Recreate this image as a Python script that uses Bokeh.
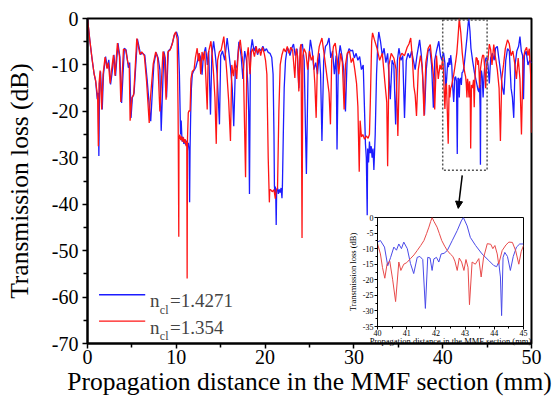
from bokeh.plotting import figure
from bokeh.models import (Range1d, FixedTicker, BoxAnnotation, Arrow, NormalHead,
                          Label, GridBox)
from bokeh.embed import file_html
from bokeh.resources import INLINE

SERIF = "Liberation Serif"

# ---------------- data ----------------
x_ticks = [0, 10, 20, 30, 40, 50]
x_minor = [5, 15, 25, 35, 45]
y_ticks = [0, -10, -20, -30, -40, -50, -60, -70]
y_minor = [-5, -15, -25, -35, -45, -55, -65]
inset_x_ticks = [40, 41, 42, 43, 44, 45]
inset_x_minor = [40.5, 41.5, 42.5, 43.5, 44.5]
inset_y_ticks = [0, -5, -10, -15, -20, -25, -30, -35]
inset_y_minor = [-2.5, -7.5, -12.5, -17.5, -22.5, -27.5, -32.5]
series_labels = ["1.4271", "1.354"]

# n_cl = 1.354 (red)
red_0_10 = [(0, 0), (0.25, -4.5), (0.5, -8.5), (0.75, -12), (0.9, -13.2), (1.05, -15.5),
            (1.15, -17.5), (1.22, -27.5), (1.3, -14), (1.42, -11.2), (1.6, -19.6), (1.75, -12),
            (1.98, -8.3), (2.2, -10.8), (2.35, -9.5), (2.55, -14), (2.65, -12), (2.92, -7.9),
            (3.1, -12.3), (3.37, -5.3), (3.6, -8.2), (3.75, -18), (4.05, -6.6), (4.3, -6.8),
            (4.55, -9.5), (4.7, -10.2), (4.8, -22), (5.0, -17), (5.2, -16.5), (5.55, -4.3),
            (5.9, -7.7), (6.1, -7.2), (6.4, -8), (6.65, -13.5), (6.95, -22.5), (7.05, -18),
            (7.4, -9.8), (7.68, -7.2), (7.9, -8.5), (8.15, -20), (8.5, -7.1), (8.65, -8),
            (8.85, -17.5), (9.05, -7.2), (9.3, -6.8), (9.55, -5.5), (9.75, -3.6), (9.92, -2.9),
            (10.1, -4.5), (10.2, -20)]
red_10_12 = [(10.22, -25.5), (10.28, -47), (10.3, -26), (10.4, -25), (10.5, -26.2),
             (10.6, -25.4), (10.7, -26.5), (10.8, -25.6), (10.9, -26.8), (11.0, -26),
             (11.1, -27.5), (11.18, -26.5), (11.22, -56), (11.26, -26), (11.35, -20.3),
             (11.45, -19.8)]
red_12_22 = [(11.55, -20), (11.65, -13), (11.8, -11.4), (12.0, -11), (12.15, -8.5),
             (12.35, -6.4), (12.5, -9.2), (12.6, -7.5), (12.75, -12), (12.9, -7.2),
             (13.05, -9), (13.2, -7), (13.48, -19.6), (13.6, -7.5), (13.9, -4.9), (14.05, -8),
             (14.2, -12), (14.35, -17), (14.5, -27), (14.65, -9), (14.85, -7.2), (15.05, -6.8),
             (15.35, -3.9), (15.55, -8.2), (15.7, -12), (15.9, -17.8), (16.1, -26.4),
             (16.25, -10), (16.45, -12.4), (16.6, -9), (16.8, -13), (17.0, -6.8), (17.2, -4.6),
             (17.4, -8), (17.55, -10), (17.8, -34.2), (17.95, -8.5), (18.1, -6.2), (18.3, -12),
             (18.45, -7.2), (18.6, -6.5), (18.8, -8.2), (19.0, -6), (19.15, -7.5), (19.35, -6.5),
             (19.5, -8), (19.7, -6.2), (19.9, -7.5), (20.05, -9), (20.2, -12), (20.35, -30),
             (20.48, -39.6), (20.52, -37), (20.6, -36.8), (20.8, -37.3), (21.0, -36.9),
             (21.15, -38.8), (21.25, -37), (21.4, -36.5), (21.55, -20), (21.7, -10),
             (21.9, -7.8)]
red_22_32 = [(22.1, -6.5), (22.3, -7.2), (22.5, -6), (22.7, -7.5), (22.9, -6.2), (23.1, -6.8),
             (23.35, -12.8), (23.5, -6.5), (23.65, -8), (23.8, -15.7), (23.95, -6.4),
             (24.05, -5.5), (24.16, -47.3), (24.25, -8), (24.4, -6.5), (24.6, -7.5), (24.8, -11),
             (25.0, -7), (25.2, -9), (25.4, -8), (25.6, -14), (25.75, -21.4), (25.9, -9),
             (26.1, -6), (26.4, -4.2), (26.6, -7), (26.8, -10), (27.0, -13), (27.2, -16),
             (27.36, -22.8), (27.5, -9), (27.7, -6), (27.9, -5.3), (28.1, -8.5), (28.3, -12),
             (28.5, -7.5), (28.7, -9.5), (28.9, -19.6), (29.05, -10), (29.25, -7.5), (29.5, -7),
             (29.7, -9.5), (29.9, -8.5), (30.1, -11), (30.3, -14), (30.45, -19), (30.6, -33),
             (30.7, -22), (30.85, -25.5), (31.0, -25), (31.2, -26), (31.4, -25.3), (31.6, -25.8),
             (31.75, -25), (31.85, -18), (32.0, -5), (32.1, -3.1)]
red_32_40 = [(32.3, -4.5), (32.6, -6.4), (32.9, -9), (33.2, -7.5), (33.5, -14), (33.7, -18),
             (33.8, -31.8), (33.95, -10), (34.2, -7.5), (34.5, -8.5), (34.75, -11),
             (34.95, -25.3), (35.15, -8.5), (35.4, -7.5), (35.7, -8), (36.0, -6.2), (36.2, -5.5),
             (36.4, -4.2), (36.6, -9), (36.75, -14.6), (36.9, -16.5), (37.05, -21), (37.25, -11),
             (37.5, -8), (37.7, -10.5), (37.9, -21), (38.1, -9.5), (38.35, -6.5), (38.6, -5.6),
             (38.8, -9.5), (39.0, -13), (39.1, -19.6), (39.3, -8), (39.5, -13), (39.7, -10),
             (39.85, -11)]
red_40_45 = [(40.0, -8.4), (40.1, -11.7), (40.17, -16), (40.25, -19.5), (40.33, -14.8),
             (40.42, -14), (40.52, -20), (40.62, -27), (40.73, -14.3), (40.8, -17), (40.9, -15),
             (41.0, -14.5), (41.13, -13.2), (41.25, -12), (41.36, -10.6), (41.48, -9),
             (41.59, -7.4), (41.68, -5.2), (41.76, -3.1), (41.82, -1.3), (41.87, 0),
             (41.93, -1.2), (42.04, -3.1), (42.12, -5.2), (42.2, -7.4), (42.3, -9.2),
             (42.39, -10.6), (42.5, -11.8), (42.58, -12.5), (42.65, -14), (42.73, -17),
             (42.8, -13), (42.88, -14.3), (42.96, -17), (43.03, -13.5), (43.1, -16),
             (43.15, -28), (43.24, -14.3), (43.35, -15), (43.47, -13.2), (43.55, -19.1),
             (43.63, -13), (43.76, -8.4), (43.88, -8.6), (43.95, -10), (44.02, -9),
             (44.1, -11.7), (44.15, -15), (44.27, -10.6), (44.4, -8.8), (44.5, -7.9),
             (44.62, -8), (44.73, -10.6), (44.84, -15), (44.92, -11), (45.0, -9)]
red_45_50 = [(45.1, -9), (45.25, -5.5), (45.4, -6.7), (45.55, -10), (45.75, -5.6),
             (45.95, -8.5), (46.15, -11), (46.35, -15), (46.5, -26.4), (46.65, -13),
             (46.85, -10), (47.05, -6.5), (47.3, -4.6), (47.5, -5.5), (47.7, -8), (47.9, -7),
             (48.1, -9.5), (48.3, -13), (48.5, -8.5), (48.7, -13), (48.87, -25), (49.05, -9),
             (49.25, -7), (49.45, -6.2), (49.6, -8), (49.75, -6.5), (49.9, -12), (50.0, -24.6)]

# n_cl = 1.4271 (blue)
blue_0_10 = [(0, 0), (0.25, -4.5), (0.5, -8.5), (0.75, -12), (0.92, -13.5), (1.1, -17.4),
             (1.2, -16), (1.28, -29.6), (1.36, -14), (1.47, -11.4), (1.66, -19.6), (1.8, -12),
             (2.04, -8.2), (2.22, -10.7), (2.4, -8.9), (2.6, -14.2), (2.75, -12), (2.98, -7.8),
             (3.16, -12.4), (3.43, -5.3), (3.65, -8.3), (3.84, -18.2), (4.15, -6.4),
             (4.35, -6.8), (4.6, -10.6), (4.75, -9.5), (4.9, -21.4), (5.05, -17.1), (5.25, -16),
             (5.62, -4.4), (5.98, -7.8), (6.15, -7.4), (6.45, -7.9), (6.73, -13.5), (7.05, -21),
             (7.12, -22.1), (7.47, -9.9), (7.73, -7.3), (7.95, -8.5), (8.15, -11), (8.3, -24.2),
             (8.6, -7.1), (8.75, -8.5), (8.9, -17), (9.1, -7), (9.35, -6.5), (9.6, -5),
             (9.8, -3.5), (10.02, -2.9), (10.2, -4), (10.35, -12), (10.48, -25)]
blue_10_12 = [(10.55, -22), (10.65, -26.5), (10.75, -25.5), (10.85, -27), (10.95, -26),
              (11.05, -27.2), (11.15, -26.3), (11.25, -27.5), (11.35, -26.8), (11.45, -28.5),
              (11.5, -39.6), (11.55, -28), (11.62, -20.7), (11.7, -15), (11.8, -12),
              (11.95, -11.3), (12.05, -11)]
blue_12_21 = [(12.2, -10.5), (12.4, -9), (12.55, -7.5), (12.7, -8.2), (12.9, -12.1), (13.05, -8),
              (13.3, -6.2), (13.5, -10), (13.65, -7), (13.85, -20.7), (14.0, -8), (14.2, -4.9),
              (14.4, -8), (14.6, -12), (14.86, -22.8), (15.0, -8), (15.2, -7), (15.45, -9),
              (15.73, -4.2), (15.9, -7), (16.1, -10.5), (16.3, -15), (16.47, -23.2), (16.65, -11),
              (16.85, -10), (17.05, -5), (17.3, -8), (17.5, -13), (17.7, -7), (17.9, -9),
              (18.05, -14), (18.15, -20), (18.24, -37.8), (18.35, -7.5), (18.55, -4.5),
              (18.75, -7), (18.95, -6), (19.15, -7.8), (19.35, -6.5), (19.55, -7), (19.75, -6),
              (19.95, -7), (20.15, -6.5), (20.35, -7.3), (20.55, -7.5), (20.75, -8.4),
              (20.9, -12), (21.0, -25)]
blue_21_23 = [(21.05, -36), (21.1, -37.5), (21.15, -36.2), (21.2, -38), (21.25, -44.5),
              (21.3, -37), (21.4, -36.5), (21.5, -37.8), (21.6, -36.8), (21.7, -37.5),
              (21.8, -36.5), (21.9, -38.7), (21.95, -36), (22.05, -25), (22.15, -15),
              (22.3, -9), (22.45, -7)]
blue_23_33 = [(22.6, -6.5), (22.8, -8), (23.0, -6.4), (23.2, -5.5), (23.4, -8), (23.6, -6.5),
              (23.8, -15), (24.0, -6), (24.2, -5.5), (24.4, -9), (24.55, -24), (24.65, -33.5),
              (24.85, -10), (25.1, -4.6), (25.3, -7), (25.5, -11), (25.7, -9.5), (25.9, -12),
              (26.1, -7.5), (26.25, -12), (26.4, -26.4), (26.6, -9), (26.8, -6), (27.0, -5.5),
              (27.2, -4.2), (27.4, -8.5), (27.6, -7), (27.8, -12), (28.0, -8), (28.1, -28.2),
              (28.25, -9), (28.45, -5.8), (28.65, -8), (28.85, -11), (29.05, -20), (29.25, -8),
              (29.45, -6.5), (29.65, -7), (29.85, -6.8), (30.05, -8.5), (30.25, -7.5),
              (30.45, -9), (30.65, -8.2), (30.85, -11), (31.05, -10), (31.2, -20), (31.3, -27),
              (31.4, -30), (31.5, -42.4), (31.55, -28), (31.65, -31), (31.75, -26.5),
              (31.85, -29), (31.95, -27.5), (32.05, -30), (32.15, -28), (32.25, -32.6),
              (32.4, -25), (32.55, -12), (32.7, -5), (32.8, -2.9)]
blue_33_40 = [(33.0, -5), (33.2, -8), (33.4, -6.4), (33.6, -9.5), (33.8, -7.5), (34.0, -14),
              (34.1, -17.4), (34.3, -9), (34.5, -10), (34.7, -22.8), (34.9, -9), (35.07, -6.4),
              (35.3, -9), (35.5, -8), (35.7, -21.4), (35.9, -9), (36.1, -7.5), (36.3, -8.5),
              (36.5, -7), (36.7, -9), (36.9, -11), (37.1, -8), (37.4, -4.6), (37.6, -8),
              (37.8, -14), (37.95, -20.7), (38.15, -11), (38.35, -7), (38.55, -6.5), (38.75, -10),
              (38.95, -19.2), (39.1, -9), (39.3, -7), (39.56, -4.9), (39.75, -8), (39.9, -9)]
blue_40_45 = [(40.0, -7.9), (40.1, -7.4), (40.24, -9.5), (40.35, -15.5), (40.45, -12.8),
              (40.56, -9.5), (40.65, -10.5), (40.73, -8.5), (40.82, -10), (40.9, -7.9),
              (41.02, -10), (41.13, -14.8), (41.24, -18), (41.36, -12.8), (41.45, -12.5),
              (41.55, -13.5), (41.64, -29.2), (41.72, -12.8), (41.8, -13), (41.87, -17),
              (41.93, -13.3), (42.02, -12.8), (42.1, -14.3), (42.18, -11.7), (42.28, -11.5),
              (42.39, -10.6), (42.56, -7.4), (42.73, -4.2), (42.87, -1.1), (42.94, 0),
              (43.07, -2.7), (43.18, -6.4), (43.36, -9), (43.58, -11.7), (43.81, -13.8),
              (43.98, -15.4), (44.08, -15.8), (44.15, -14.3), (44.21, -19.1), (44.25, -31.5),
              (44.3, -12.8), (44.36, -11.2), (44.45, -12.5), (44.55, -17), (44.65, -12.5),
              (44.76, -9.5), (44.87, -8.5), (45.0, -8.5)]
blue_45_50 = [(45.1, -10), (45.25, -14), (45.4, -8.5), (45.6, -7.5), (45.8, -9), (45.95, -6.4),
              (46.15, -6), (46.35, -9), (46.55, -12), (46.7, -14.6), (46.9, -16.4), (47.1, -9),
              (47.3, -6.5), (47.5, -7), (47.7, -15), (47.85, -17), (48.0, -21.4), (48.15, -10),
              (48.35, -7), (48.55, -6), (48.7, -3.9), (48.85, -7), (49.0, -8), (49.1, -17.4),
              (49.2, -8), (49.4, -7), (49.6, -10), (49.8, -9), (50.0, -9.6)]


def xy(*segments):
    pts = [pt for seg in segments for pt in seg]
    return [pt[0] for pt in pts], [pt[1] for pt in pts]


rx, ry = xy(red_0_10, red_10_12, red_12_22, red_22_32, red_32_40, red_40_45, red_45_50)
bx, by = xy(blue_0_10, blue_10_12, blue_12_21, blue_21_23, blue_23_33, blue_33_40,
            blue_40_45, blue_45_50)
rix, riy = xy(red_40_45)
bix, biy = xy(blue_40_45)

BLUE = "#1c1cff"
RED = "#ff1414"

# ---------------- main figure ----------------
p = figure(width=554, height=399, x_range=Range1d(0, 50), y_range=Range1d(-70, 0),
           output_backend="svg", toolbar_location=None,
           min_border_left=87, min_border_right=23, min_border_top=18, min_border_bottom=56)
p.xgrid.visible = False
p.ygrid.visible = False
p.outline_line_color = "black"
p.outline_line_width = 2
p.outline_line_alpha = 1

p.line(bx, by, color=BLUE, line_width=1.3)
p.line(rx, ry, color=RED, line_width=1.3)

p.xaxis.ticker = FixedTicker(ticks=x_ticks, minor_ticks=x_minor)
p.yaxis.ticker = FixedTicker(ticks=y_ticks, minor_ticks=y_minor)
p.xaxis.major_label_overrides = {t: str(t) for t in x_ticks}
p.yaxis.major_label_overrides = {t: str(t) for t in y_ticks}
p.xaxis.axis_label = "Propagation distance in the MMF section (mm)"
p.yaxis.axis_label = "Transmission loss (dB)"
for ax in (p.xaxis[0], p.yaxis[0]):
    ax.axis_line_width = 2
    ax.major_tick_line_width = 1.5
    ax.minor_tick_line_width = 1.5
    ax.major_tick_out = 5
    ax.major_tick_in = 0
    ax.minor_tick_out = 4
    ax.minor_tick_in = 0
    ax.major_label_text_font = SERIF
    ax.major_label_text_font_size = "20px"
    ax.major_label_text_color = "black"
    ax.axis_label_text_font = SERIF
    ax.axis_label_text_font_size = "25.5px"
    ax.axis_label_text_font_style = "normal"
    ax.axis_label_text_color = "black"
p.xaxis[0].major_label_standoff = 1
p.xaxis[0].axis_label_standoff = 0
p.yaxis[0].major_label_standoff = 4
p.yaxis[0].axis_label_standoff = 15

# zoom window and arrow
p.add_layout(BoxAnnotation(left=40, right=45, top=-0.3, bottom=-32.7, fill_alpha=0,
                           line_color="#555555", line_dash="2 2", line_width=1.5,
                           line_alpha=1))
p.add_layout(Arrow(end=NormalHead(size=7, fill_color="black", line_color="black"),
                   x_start=42.2, y_start=-33.8, x_end=41.75, y_end=-40.9,
                   line_color="black", line_width=1.5))

# custom legend with subscript
leg_rows = [(-59.5, BLUE, series_labels[0]), (-65.2, RED, series_labels[1])]
for yrow, col, lab in leg_rows:
    p.add_layout(Arrow(end=None, x_start=1.3, y_start=yrow, x_end=6.5, y_end=yrow,
                       line_color=col, line_width=1.3))
    p.add_layout(Label(x=7.05, y=yrow - 1.25, text="n", text_font=SERIF,
                       text_font_size="19px", text_baseline="alphabetic"))
    p.add_layout(Label(x=8.15, y=yrow - 3.2, text="cl", text_font=SERIF,
                       text_font_size="12px", text_baseline="alphabetic"))
    p.add_layout(Label(x=9.3, y=yrow - 1.25, text="=" + lab, text_font=SERIF,
                       text_font_size="19px", text_baseline="alphabetic"))

# ---------------- inset figure ----------------
# shares the grid cell with the main plot, so its frame borders are aligned to the
# main plot's (87 / 23 / 18 / 56); the figure box is sized to leave the wanted frame.
ins = figure(width=256, height=183, x_range=Range1d(40, 45), y_range=Range1d(-35, 0),
             output_backend="svg", toolbar_location=None,
             min_border_left=0, min_border_right=0, min_border_top=0, min_border_bottom=0)
ins.border_fill_color = None
ins.background_fill_color = "white"
ins.xgrid.visible = False
ins.ygrid.visible = False
ins.outline_line_color = "black"
ins.outline_line_width = 1
ins.outline_line_alpha = 1
ins.line(bix, biy, color="#4a4ae8", line_width=1)
ins.line(rix, riy, color="#e84a4a", line_width=1)
ins.xaxis.ticker = FixedTicker(ticks=inset_x_ticks, minor_ticks=inset_x_minor)
ins.yaxis.ticker = FixedTicker(ticks=inset_y_ticks, minor_ticks=inset_y_minor)
ins.xaxis.major_label_overrides = {t: str(t) for t in inset_x_ticks}
ins.yaxis.major_label_overrides = {t: str(t) for t in inset_y_ticks}
ins.xaxis.axis_label = "Propagation distance in the MMF section (mm)"
ins.yaxis.axis_label = "Transmission loss (dB)"
for ax in (ins.xaxis[0], ins.yaxis[0]):
    ax.axis_line_width = 1
    ax.major_tick_out = 3
    ax.major_tick_in = 0
    ax.minor_tick_out = 2
    ax.minor_tick_in = 0
    ax.major_label_text_font = SERIF
    ax.major_label_text_font_size = "8px"
    ax.major_label_text_color = "black"
    ax.axis_label_text_font = SERIF
    ax.axis_label_text_font_size = "8.5px"
    ax.axis_label_text_font_style = "normal"
    ax.axis_label_text_color = "black"
ins.xaxis[0].major_label_standoff = 0
ins.xaxis[0].axis_label_standoff = -3
ins.yaxis[0].major_label_standoff = 1
ins.yaxis[0].axis_label_standoff = 2

ins.styles = {"position": "absolute", "left": "290px", "top": "199px", "z-index": "5"}

layout = GridBox(children=[(p, 0, 0), (ins, 0, 0)])

open("out.html", "w").write(file_html(layout, INLINE))
